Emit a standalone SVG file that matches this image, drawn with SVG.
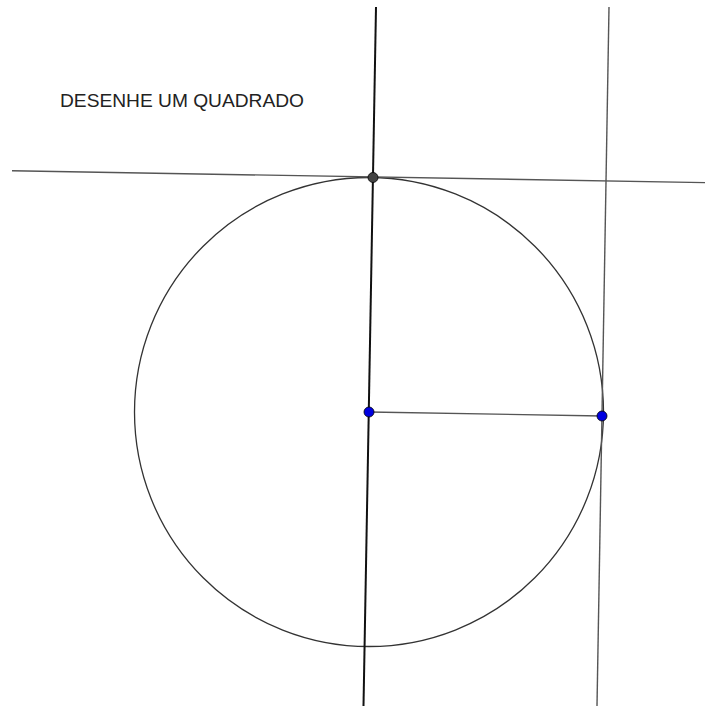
<svg xmlns="http://www.w3.org/2000/svg" width="705" height="706" viewBox="0 0 705 706">
<style>
.ln{stroke:#555;stroke-width:1.4;fill:none}
.lnd{stroke:#111;stroke-width:2;fill:none}
.pt{stroke:#000;stroke-width:0.8}
text{font-family:"Liberation Sans",Arial,sans-serif;font-size:19px;fill:#222}
</style>
<rect width="705" height="706" fill="#fff"/>
<text x="60" y="107" textLength="244" lengthAdjust="spacingAndGlyphs">DESENHE UM QUADRADO</text>
<g id="connectors">
<circle cx="369" cy="412" r="234.5" fill="none" stroke="#333" stroke-width="1.3"/>
<line class="ln" x1="12" y1="170.8" x2="705" y2="182.6"/>
<line class="lnd" x1="376" y1="7" x2="363.5" y2="706"/>
<line class="ln" x1="609" y1="7" x2="597" y2="706"/>
<line class="ln" x1="369" y1="412" x2="602" y2="416"/>
</g>
<g id="node-top"><circle class="pt" cx="373" cy="177.5" r="5" fill="#444"/></g>
<g id="node-center"><circle class="pt" cx="369" cy="412" r="5" fill="#0000e0"/></g>
<g id="node-right"><circle class="pt" cx="602" cy="416" r="5" fill="#0000e0"/></g>
</svg>
